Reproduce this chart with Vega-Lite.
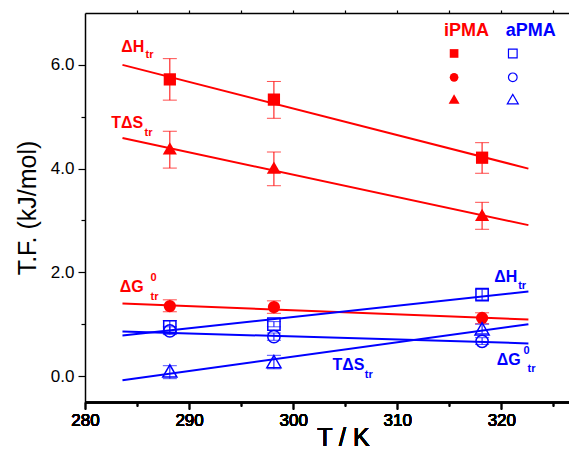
{
  "$schema": "https://vega.github.io/schema/vega-lite/v6.json",
  "width": 484,
  "height": 389,
  "autosize": "none",
  "padding": {"left": 85, "top": 13, "right": 0, "bottom": 51},
  "background": "white",
  "config": {
    "view": {"stroke": null},
    "font": "Liberation Sans",
    "axis": {"domainColor": "black", "tickColor": "black", "labelColor": "black", "titleColor": "black", "grid": false, "domainWidth": 1.5, "tickWidth": 1.2, "labelFont": "Liberation Sans", "titleFont": "Liberation Sans", "titleFontWeight": "normal"}
  },
  "datasets": {
    "points": [
      {"poly": "iPMA", "q": "dH", "T": 288.15, "v": 5.72, "lo": 5.32, "hi": 6.12},
      {"poly": "iPMA", "q": "dH", "T": 298.15, "v": 5.33, "lo": 4.97, "hi": 5.68},
      {"poly": "iPMA", "q": "dH", "T": 318.15, "v": 4.21, "lo": 3.91, "hi": 4.5},
      {"poly": "iPMA", "q": "TdS", "T": 288.15, "v": 4.39, "lo": 4.01, "hi": 4.72},
      {"poly": "iPMA", "q": "TdS", "T": 298.15, "v": 4.02, "lo": 3.67, "hi": 4.32},
      {"poly": "iPMA", "q": "TdS", "T": 318.15, "v": 3.11, "lo": 2.83, "hi": 3.35},
      {"poly": "iPMA", "q": "dG", "T": 288.15, "v": 1.35, "lo": 1.24, "hi": 1.47},
      {"poly": "iPMA", "q": "dG", "T": 298.15, "v": 1.33, "lo": 1.21, "hi": 1.45},
      {"poly": "iPMA", "q": "dG", "T": 318.15, "v": 1.12, "lo": 1.01, "hi": 1.22},
      {"poly": "aPMA", "q": "dH", "T": 288.15, "v": 0.95, "lo": 0.85, "hi": 1.07},
      {"poly": "aPMA", "q": "dH", "T": 298.15, "v": 1.0, "lo": 0.95, "hi": 1.05},
      {"poly": "aPMA", "q": "dH", "T": 318.15, "v": 1.57, "lo": 1.47, "hi": 1.67},
      {"poly": "aPMA", "q": "dG", "T": 288.15, "v": 0.87, "lo": 0.8, "hi": 0.95},
      {"poly": "aPMA", "q": "dG", "T": 298.15, "v": 0.76, "lo": 0.69, "hi": 0.83},
      {"poly": "aPMA", "q": "dG", "T": 318.15, "v": 0.67, "lo": 0.61, "hi": 0.74},
      {"poly": "aPMA", "q": "TdS", "T": 288.15, "v": 0.1, "lo": -0.05, "hi": 0.2},
      {"poly": "aPMA", "q": "TdS", "T": 298.15, "v": 0.28, "lo": 0.14, "hi": 0.4},
      {"poly": "aPMA", "q": "TdS", "T": 318.15, "v": 0.91, "lo": 0.82, "hi": 1.0}
    ],
    "lines": [
      {"id": "iPMA-dH", "poly": "iPMA", "T": 283.6, "v": 6.0},
      {"id": "iPMA-dH", "poly": "iPMA", "T": 322.6, "v": 4.0},
      {"id": "iPMA-TdS", "poly": "iPMA", "T": 283.6, "v": 4.59},
      {"id": "iPMA-TdS", "poly": "iPMA", "T": 322.6, "v": 2.91},
      {"id": "iPMA-dG", "poly": "iPMA", "T": 283.6, "v": 1.4},
      {"id": "iPMA-dG", "poly": "iPMA", "T": 322.6, "v": 1.09},
      {"id": "aPMA-dH", "poly": "aPMA", "T": 283.6, "v": 0.78},
      {"id": "aPMA-dH", "poly": "aPMA", "T": 322.6, "v": 1.63},
      {"id": "aPMA-dG", "poly": "aPMA", "T": 283.6, "v": 0.86},
      {"id": "aPMA-dG", "poly": "aPMA", "T": 322.6, "v": 0.63},
      {"id": "aPMA-TdS", "poly": "aPMA", "T": 283.6, "v": -0.08},
      {"id": "aPMA-TdS", "poly": "aPMA", "T": 322.6, "v": 1.0}
    ],
    "labels": [
      {"text": "ΔH", "poly": "iPMA", "kind": "main", "T": 283.48, "v": 6.24},
      {"text": "tr", "poly": "iPMA", "kind": "sub", "T": 285.82, "v": 6.13},
      {"text": "TΔS", "poly": "iPMA", "kind": "main", "T": 282.52, "v": 4.78},
      {"text": "tr", "poly": "iPMA", "kind": "sub", "T": 285.72, "v": 4.63},
      {"text": "ΔG", "poly": "iPMA", "kind": "main", "T": 283.35, "v": 1.63},
      {"text": "0", "poly": "iPMA", "kind": "sup", "T": 286.3, "v": 1.84},
      {"text": "tr", "poly": "iPMA", "kind": "sub", "T": 286.3, "v": 1.475},
      {"text": "ΔH", "poly": "aPMA", "kind": "main", "T": 319.31, "v": 1.81},
      {"text": "tr", "poly": "aPMA", "kind": "sub", "T": 321.62, "v": 1.67},
      {"text": "TΔS", "poly": "aPMA", "kind": "main", "T": 303.77, "v": 0.115},
      {"text": "tr", "poly": "aPMA", "kind": "sub", "T": 306.88, "v": -0.03},
      {"text": "ΔG", "poly": "aPMA", "kind": "main", "T": 319.57, "v": 0.21},
      {"text": "0", "poly": "aPMA", "kind": "sup", "T": 322.13, "v": 0.43},
      {"text": "tr", "poly": "aPMA", "kind": "sub", "T": 322.52, "v": 0.077},
      {"text": "iPMA", "poly": "iPMA", "kind": "head", "T": 314.5, "v": 6.55},
      {"text": "aPMA", "poly": "aPMA", "kind": "head", "T": 320.43, "v": 6.55}
    ],
    "legend": [
      {"poly": "iPMA", "q": "dH", "T": 315.46, "v": 6.22},
      {"poly": "iPMA", "q": "dG", "T": 315.46, "v": 5.76},
      {"poly": "iPMA", "q": "TdS", "T": 315.46, "v": 5.34},
      {"poly": "aPMA", "q": "dH", "T": 321.1, "v": 6.22},
      {"poly": "aPMA", "q": "dG", "T": 321.1, "v": 5.76},
      {"poly": "aPMA", "q": "TdS", "T": 321.1, "v": 5.34}
    ]
  },
  "encoding": {
    "x": {"field": "T", "type": "quantitative", "scale": {"domain": [280, 326.5], "nice": false, "zero": false},
      "axis": {"orient": "bottom", "values": [280, 285, 290, 295, 300, 305, 310, 315, 320, 325], "format": "d",
        "labelExpr": "datum.value % 10 === 0 ? datum.label : ''",
        "tickSize": {"condition": {"test": "datum.value % 10 === 0", "value": 7}, "value": 4},
        "labelFontSize": 17, "labelPadding": 3, "labelFlush": false, "title": "T / K", "titleFontSize": 25, "titleFontWeight": "normal", "titleX": 258, "titlePadding": -3}},
    "y": {"field": "v", "type": "quantitative", "scale": {"domain": [-0.5, 7], "nice": false, "zero": false},
      "axis": {"values": [0, 1, 2, 3, 4, 5, 6], "format": ".1f",
        "labelExpr": "datum.value % 2 === 0 ? datum.label : ''",
        "tickSize": {"condition": {"test": "datum.value % 2 === 0", "value": 7}, "value": 4},
        "labelFontSize": 17, "labelPadding": 4, "title": "T.F. (kJ/mol)", "titleFontSize": 25, "titleFontWeight": "normal", "titlePadding": 10}},
    "color": {"field": "poly", "type": "nominal", "scale": {"domain": ["iPMA", "aPMA"], "range": ["#ff0000", "#0000ff"]}, "legend": null},
    "shape": {"field": "q", "type": "nominal", "scale": {"domain": ["dH", "TdS", "dG"], "range": ["square", "triangle-up", "circle"]}, "legend": null}
  },
  "layer": [
    {
      "data": {"name": "lines"},
      "mark": {"type": "line", "strokeWidth": 2},
      "encoding": {"detail": {"field": "id"}, "shape": null}
    },
    {
      "data": {"name": "points"},
      "mark": {"type": "rule", "strokeWidth": 1},
      "encoding": {"y": {"field": "lo", "type": "quantitative"}, "y2": {"field": "hi"}, "shape": null}
    },
    {
      "data": {"name": "points"},
      "mark": {"type": "tick", "orient": "horizontal", "size": 14, "thickness": 1},
      "encoding": {"y": {"field": "lo", "type": "quantitative"}, "shape": null}
    },
    {
      "data": {"name": "points"},
      "mark": {"type": "tick", "orient": "horizontal", "size": 14, "thickness": 1},
      "encoding": {"y": {"field": "hi", "type": "quantitative"}, "shape": null}
    },
    {
      "data": {"name": "points"},
      "transform": [{"filter": "datum.poly === 'iPMA'"}],
      "mark": {"type": "point", "filled": true, "opacity": 1},
      "encoding": {"size": {"condition": {"test": "datum.q === 'TdS'", "value": 200}, "value": 150}}
    },
    {
      "data": {"name": "points"},
      "transform": [{"filter": "datum.poly === 'aPMA'"}],
      "mark": {"type": "point", "filled": false, "opacity": 1, "strokeWidth": 1.5},
      "encoding": {"size": {"condition": {"test": "datum.q === 'TdS'", "value": 200}, "value": 150}}
    },
    {
      "data": {"name": "legend"},
      "transform": [{"filter": "datum.poly === 'iPMA'"}],
      "mark": {"type": "point", "filled": true, "opacity": 1},
      "encoding": {"size": {"condition": {"test": "datum.q === 'TdS'", "value": 120}, "value": 75}}
    },
    {
      "data": {"name": "legend"},
      "transform": [{"filter": "datum.poly === 'aPMA'"}],
      "mark": {"type": "point", "filled": false, "opacity": 1, "strokeWidth": 1.2},
      "encoding": {"size": {"condition": {"test": "datum.q === 'TdS'", "value": 120}, "value": 75}}
    },
    {
      "data": {"name": "labels"},
      "transform": [{"filter": "datum.kind === 'main'"}],
      "mark": {"type": "text", "align": "left", "baseline": "alphabetic", "fontWeight": "bold", "font": "Liberation Sans", "fontSize": 16},
      "encoding": {"text": {"field": "text"}, "shape": null}
    },
    {
      "data": {"name": "labels"},
      "transform": [{"filter": "datum.kind === 'sub' || datum.kind === 'sup'"}],
      "mark": {"type": "text", "align": "left", "baseline": "alphabetic", "fontWeight": "bold", "font": "Liberation Sans", "fontSize": 11},
      "encoding": {"text": {"field": "text"}, "shape": null}
    },
    {
      "data": {"name": "labels"},
      "transform": [{"filter": "datum.kind === 'head'"}],
      "mark": {"type": "text", "align": "left", "baseline": "alphabetic", "fontWeight": "bold", "font": "Liberation Sans", "fontSize": 18},
      "encoding": {"text": {"field": "text"}, "shape": null}
    },
    {
      "data": {"values": [{"T": 280}]},
      "mark": {"type": "point", "opacity": 0},
      "encoding": {
        "x": {"field": "T", "type": "quantitative", "axis": {"orient": "top", "values": [285, 290, 295, 300, 305, 310, 315, 320, 325], "labels": false, "title": null, "tickSize": 3}},
        "y": {"datum": 3, "type": "quantitative"},
        "color": {"value": "black"},
        "shape": null
      }
    }
  ]
}
